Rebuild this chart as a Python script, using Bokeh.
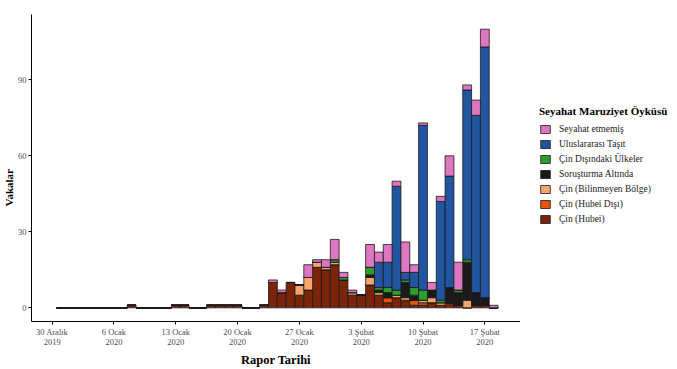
import pandas as pd
from bokeh.plotting import figure
from bokeh.layouts import row
from bokeh.models import ColumnDataSource, FixedTicker, Legend, LegendItem, Range1d, Title
from bokeh.embed import file_html
from bokeh.resources import INLINE

# ---- data ----
report_dates = pd.date_range("2019-12-31", "2020-02-18").strftime("%Y-%m-%d").tolist()

hubei = [0, 0, 0, 0, 0, 0, 0, 0, 1, 0,
         0, 0, 0, 1, 1, 0, 0, 1, 1, 1,
         1, 0, 0, 1, 10, 6, 10, 5, 7, 16,
         15, 17, 11, 5, 5, 9, 5, 2, 4, 3,
         1, 1, 2, 1, 2, 1, 0, 1, 1, 0]
hubei_disi = [0, 0, 0, 0, 0, 0, 0, 0, 0, 0,
              0, 0, 0, 0, 0, 0, 0, 0, 0, 0,
              0, 0, 0, 0, 0, 0, 0, 0, 0, 0,
              0, 0, 0, 0, 0, 0, 0, 2, 0, 0,
              2, 1, 0, 0, 0, 0, 0, 0, 0, 0]
bilinmeyen = [0, 0, 0, 0, 0, 0, 0, 0, 0, 0,
              0, 0, 0, 0, 0, 0, 0, 0, 0, 0,
              0, 0, 0, 0, 0, 0, 0, 4, 5, 2,
              1, 1, 0, 1, 0, 3, 1, 0, 1, 1,
              0, 1, 2, 1, 0, 0, 3, 0, 0, 0]
sorusturma = [0, 0, 0, 0, 0, 0, 0, 0, 0, 0,
              0, 0, 0, 0, 0, 0, 0, 0, 0, 0,
              0, 0, 0, 0, 0, 0, 0, 0, 0, 0,
              0, 0, 0, 0, 0, 1, 1, 2, 0, 6,
              2, 0, 3, 0, 6, 5, 15, 5, 3, 0]
diger_ulkeler = [0, 0, 0, 0, 0, 0, 0, 0, 0, 0,
                 0, 0, 0, 0, 0, 0, 0, 0, 0, 0,
                 0, 0, 0, 0, 0, 0, 0, 0, 0, 0,
                 0, 1, 1, 0, 0, 3, 1, 2, 2, 1,
                 3, 4, 0, 1, 0, 1, 1, 0, 0, 0]
tasit = [0, 0, 0, 0, 0, 0, 0, 0, 0, 0,
         0, 0, 0, 0, 0, 0, 0, 0, 0, 0,
         0, 0, 0, 0, 0, 0, 0, 0, 0, 0,
         0, 0, 0, 0, 0, 0, 10, 10, 41, 3,
         6, 65, 0, 39, 44, 0, 67, 70, 99, 0]
seyahat_yok = [0, 0, 0, 0, 0, 0, 0, 0, 0, 0,
               0, 0, 0, 0, 0, 0, 0, 0, 0, 0,
               0, 0, 0, 0, 1, 1, 0, 0, 5, 1,
               3, 8, 2, 1, 0, 9, 4, 7, 2, 12,
               3, 1, 3, 2, 8, 11, 2, 6, 7, 1]

series_keys = ["hubei", "hubei_disi", "bilinmeyen", "sorusturma", "diger", "tasit", "seyahat"]
series_names = ["Çin (Hubei)", "Çin (Hubei Dışı)", "Çin (Bilinmeyen Bölge)",
                "Soruşturma Altında", "Çin Dışındaki Ülkeler", "Uluslararası Taşıt",
                "Seyahat etmemiş"]
series_colors = ["#7a2409", "#e6550d", "#f9a468", "#1a1a1a", "#2e9e2e", "#2255a0", "#de77c1"]

tick_dates = ["2019-12-30", "2020-01-06", "2020-01-13", "2020-01-20",
              "2020-01-27", "2020-02-03", "2020-02-10", "2020-02-17"]
tick_labels = ["30 Aralık\n2019", "6 Ocak\n2020", "13 Ocak\n2020", "20 Ocak\n2020",
               "27 Ocak\n2020", "3 Şubat\n2020", "10 Şubat\n2020", "17 Şubat\n2020"]
y_ticks = [0, 30, 60, 90]

# ---- build ----
base = pd.Timestamp(tick_dates[0])
xs = [(pd.Timestamp(d) - base).days for d in report_dates]
tick_x = [(pd.Timestamp(d) - base).days for d in tick_dates]

source = ColumnDataSource(dict(x=xs, hubei=hubei, hubei_disi=hubei_disi, bilinmeyen=bilinmeyen,
                               sorusturma=sorusturma, diger=diger_ulkeler, tasit=tasit,
                               seyahat=seyahat_yok))

SERIF = "Liberation Serif"

p = figure(frame_width=489, frame_height=307,
           x_range=Range1d(-2.34, 53.04), y_range=Range1d(-5.4, 115.8),
           output_backend="svg", toolbar_location=None,
           min_border_left=14, min_border_right=0, min_border_top=14, min_border_bottom=48)

renderers = p.vbar_stack(series_keys, x="x", width=1.0, source=source,
                         fill_color=series_colors, line_color="#1a1a1a", line_width=0.8)

p.xgrid.visible = False
p.ygrid.visible = False
p.outline_line_color = None

p.yaxis.ticker = FixedTicker(ticks=y_ticks)
p.xaxis.ticker = FixedTicker(ticks=tick_x)
p.xaxis.major_label_overrides = {t: l for t, l in zip(tick_x, tick_labels)}

for ax in (p.xaxis[0], p.yaxis[0]):
    ax.axis_line_color = "black"
    ax.axis_line_width = 1
    ax.major_tick_line_color = "black"
    ax.major_tick_out = 3
    ax.major_tick_in = 0
    ax.minor_tick_line_color = None
    ax.major_label_text_font = SERIF
    ax.major_label_text_font_size = "8.5px"
    ax.major_label_text_color = "#4d4d4d"
    ax.major_label_standoff = 2

p.xaxis.major_label_text_line_height = 1.0

p.xaxis.axis_label = "Rapor Tarihi"
p.xaxis.axis_label_text_font = SERIF
p.xaxis.axis_label_text_font_style = "bold"
p.xaxis.axis_label_text_font_size = "12.5px"
p.xaxis.axis_label_text_color = "black"
p.xaxis.axis_label_standoff = 3

# y-axis title as a side-panel title (not clipped, compact)
p.add_layout(Title(text="Vakalar", text_font=SERIF, text_font_style="bold",
                   text_font_size="11px", text_color="black", align="left",
                   offset=115, standoff=0), "left")

# ---- legend panel: a second, axis-less figure beside the plot ----
lf = figure(width=158, height=369, x_range=Range1d(-200, -199), y_range=Range1d(0, 1),
            output_backend="svg", toolbar_location=None, x_axis_type=None, y_axis_type=None,
            min_border=0)
lf.xgrid.visible = False
lf.ygrid.visible = False
lf.outline_line_color = None
leg_renderers = lf.vbar_stack(series_keys, x="x", width=1.0, source=source,
                              fill_color=series_colors, line_color="#1a1a1a", line_width=0.8)

items = [LegendItem(label=n, renderers=[r]) for n, r in zip(series_names, leg_renderers)][::-1]
legend = Legend(items=items, title="Seyahat Maruziyet Öyküsü", location=(19, 97))
legend.title_text_font = SERIF
legend.title_text_font_style = "bold"
legend.title_text_font_size = "11px"
legend.title_text_color = "black"
legend.title_standoff = 7
legend.label_text_font = SERIF
legend.label_text_font_size = "9.5px"
legend.label_text_color = "#1a1a1a"
legend.glyph_width = 12
legend.glyph_height = 10
legend.label_height = 10
legend.label_standoff = 8
legend.spacing = 5
legend.padding = 0
legend.margin = 0
legend.border_line_color = None
legend.background_fill_alpha = 0
lf.add_layout(legend, "center")

layout = row(p, lf)
open("out.html", "w").write(file_html(layout, INLINE))
